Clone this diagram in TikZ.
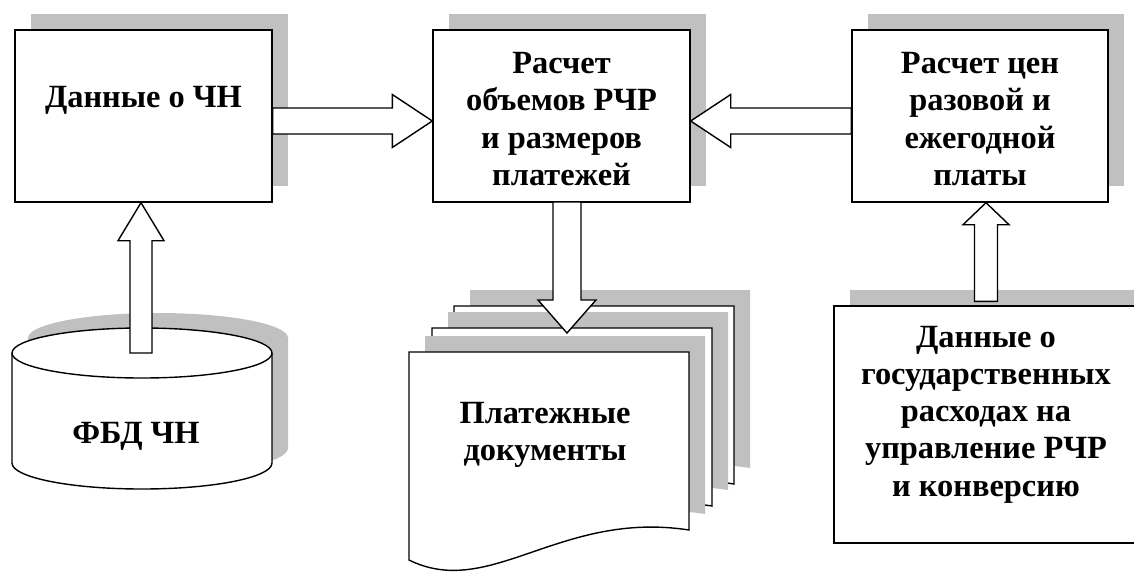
\documentclass[tikz,border=0pt]{standalone}
\usepackage{fontspec}
\setmainfont{Liberation Serif}
\usetikzlibrary{calc,shadows}
\definecolor{shadowgray}{RGB}{192,192,192}
\tikzset{
    shadowed/.style={drop shadow={shadow xshift=8pt, shadow yshift=8pt, fill=shadowgray, opacity=1}},
    box/.style={draw=black, line width=0.7pt, fill=white, shadowed, inner sep=0pt},
    boxtext/.style={font=\fontsize{16.2}{18.6}\selectfont\bfseries, align=center, inner sep=0pt},
    arrowbody/.style={draw=black, line width=0.7pt, fill=white, line join=miter},
    docpage/.style={draw=black, line width=0.7pt, fill=white}
}
% hollow block arrow: start, tip, shaft half width, head half width, head length
\newcommand{\blockarrow}[5]{%
    \coordinate (ba-base) at ($(#2)!#5!(#1)$);
    \draw[arrowbody] ($(#1)!#3!90:(#2)$) -- ($(ba-base)!#3!-90:(#1)$) -- ($(ba-base)!#4!-90:(#1)$)
        -- (#2) -- ($(ba-base)!#4!90:(#1)$) -- ($(ba-base)!#3!90:(#1)$) -- ($(#1)!#3!-90:(#2)$) -- cycle;
}
% one sheet of the document stack, shifted by (#1,#2)
\newcommand{\docsheet}[2]{%
    \begin{scope}[shift={(#1,#2)}]
        \fill[shadowgray, shift={(16,16)}] (409,-352) -- (689,-352) -- (689,-530)
            .. controls (560,-510) and (490,-600) .. (409,-560) -- cycle;
        \filldraw[docpage] (409,-352) -- (689,-352) -- (689,-530)
            .. controls (560,-510) and (490,-600) .. (409,-560) -- cycle;
    \end{scope}
}

\begin{document}
\begin{tikzpicture}[x=0.5pt, y=0.5pt]
\useasboundingbox (0,0) rectangle (1134,-573);

\node[box, minimum width=128.5pt, minimum height=86pt] (data)    at (143.5,-116) {};
\node[box, minimum width=128.5pt, minimum height=86pt] (calc)    at (561.5,-116) {};
\node[box, minimum width=128pt,   minimum height=86pt] (price)   at (980,-116)   {};
\node[box, minimum width=152pt,   minimum height=118.5pt] (govdata) at (986,-424.5) {};

\node[boxtext] (data-t)  at ([yshift=8pt]data.center)     {Данные о ЧН};
\node[boxtext] (calc-t)  at ([yshift=-1.5pt]calc.center)  {Расчет\\объемов РЧР\\и размеров\\платежей};
\node[boxtext] (price-t) at ([yshift=-1.5pt]price.center) {Расчет цен\\разовой и\\ежегодной\\платы};
\node[boxtext] (gov-t)   at ([yshift=5pt]govdata.center)  {Данные о\\государственных\\расходах на\\управление РЧР\\и конверсию};

% database cylinder
\fill[shadowgray, shift={(16,15)}] (12,-353) arc[start angle=180, end angle=0, x radius=130, y radius=25]
    -- (272,-463) arc[start angle=0, end angle=-180, x radius=130, y radius=26] -- cycle;
\filldraw[docpage] (12,-353) -- (12,-463) arc[start angle=180, end angle=360, x radius=130, y radius=26]
    -- (272,-353) arc[start angle=0, end angle=180, x radius=130, y radius=25] -- cycle;
\draw[line width=0.7pt] (12,-353) arc[start angle=180, end angle=360, x radius=130, y radius=25];
\node[boxtext] (fbd) at (136,-436) {ФБД ЧН};
\coordinate (fbd-top) at (141,-353);

% payment documents
\docsheet{45}{46}
\docsheet{23}{24}
\docsheet{0}{0}
\node[boxtext] (docs) at (545,-435) {Платежные\\документы};
\coordinate (docs-in)  at (567,-333);
\coordinate (calc-out) at (567,-202);

\blockarrow{[yshift=-2.5pt]data.east}{[yshift=-2.5pt]calc.west}{6.5pt}{13.25pt}{20pt}
\blockarrow{[yshift=-2.5pt]price.west}{[yshift=-2.5pt]calc.east}{6.5pt}{13.25pt}{20pt}
\blockarrow{fbd-top}{fbd-top |- data.south}{5.5pt}{11.5pt}{19pt}
\blockarrow{calc-out}{docs-in}{7pt}{14.5pt}{16.5pt}
\blockarrow{[yshift=2pt]govdata.north}{govdata.north |- price.south}{5.75pt}{11.5pt}{11pt}

\end{tikzpicture}
\end{document}
